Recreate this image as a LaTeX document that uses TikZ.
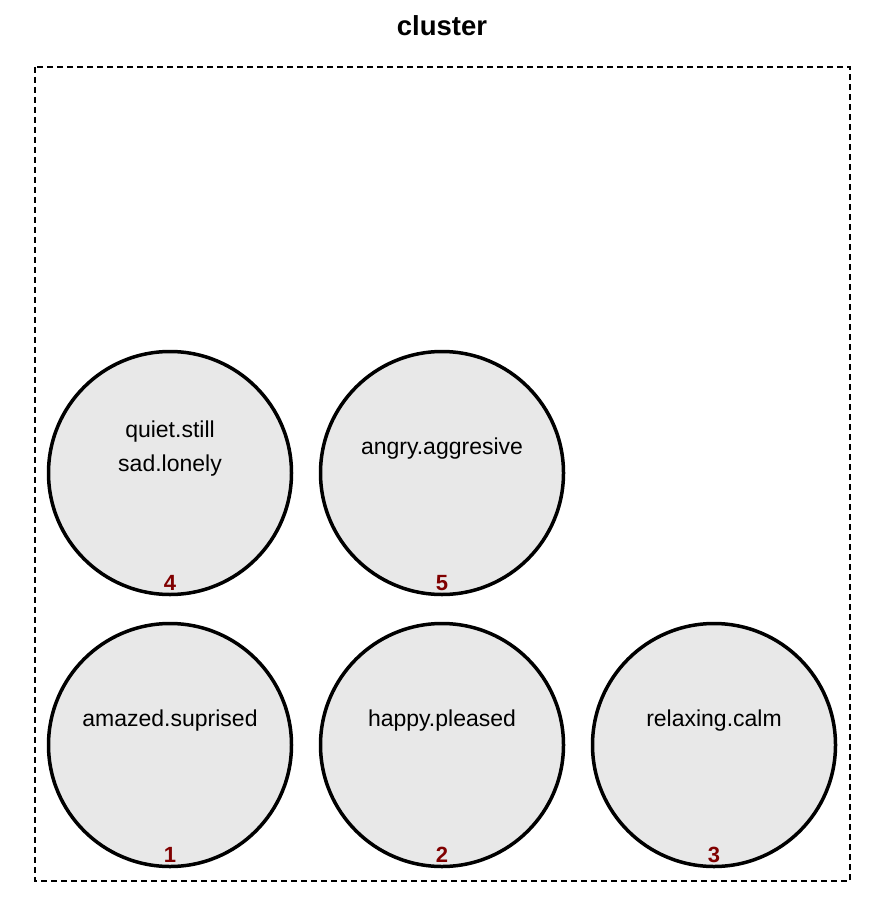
\documentclass[tikz,border=0pt]{standalone}
\usepackage{fontspec}
\setmainfont{Liberation Sans}
\definecolor{cfill}{HTML}{E8E8E8}
\definecolor{numred}{HTML}{800000}
\begin{document}
\begin{tikzpicture}[x=1pt,y=-1pt,
  emo/.style={circle,draw=black,line width=3.5pt,fill=cfill,minimum size=243pt,inner sep=0pt},
  lbl/.style={font=\fontsize{23}{34}\selectfont,align=center,inner sep=0pt},
  num/.style={font=\fontsize{22}{24}\selectfont\bfseries,text=numred,inner sep=0pt},
  clusterbox/.style={draw=black,line width=1.8pt,dash pattern=on 6pt off 4pt}]
\useasboundingbox (0,0) rectangle (880,909);
\node[font=\fontsize{27.5}{30}\selectfont\bfseries,inner sep=0pt] (title) at (442,26) {cluster};
\coordinate (bl) at (35,67);
\coordinate (tr) at (850,881);
\draw[clusterbox] (bl) rectangle (tr);
% top row
\node[emo] (c4) at (170,473) {};
\node[emo] (c5) at (442,473) {};
% bottom row
\node[emo] (c1) at (170,745) {};
\node[emo] (c2) at (442,745) {};
\node[emo] (c3) at (714,745) {};
\node[lbl] (t4) at (170,449) {quiet.still\\sad.lonely};
\node[lbl] (t5) at (442,449) {angry.aggresive};
\node[lbl] (t1) at (170,721) {amazed.suprised};
\node[lbl] (t2) at (442,721) {happy.pleased};
\node[lbl] (t3) at (714,721) {relaxing.calm};
\node[num] (n4) at (170,583) {4};
\node[num] (n5) at (442,583) {5};
\node[num] (n1) at (170,855) {1};
\node[num] (n2) at (442,855) {2};
\node[num] (n3) at (714,855) {3};
\end{tikzpicture}
\end{document}
